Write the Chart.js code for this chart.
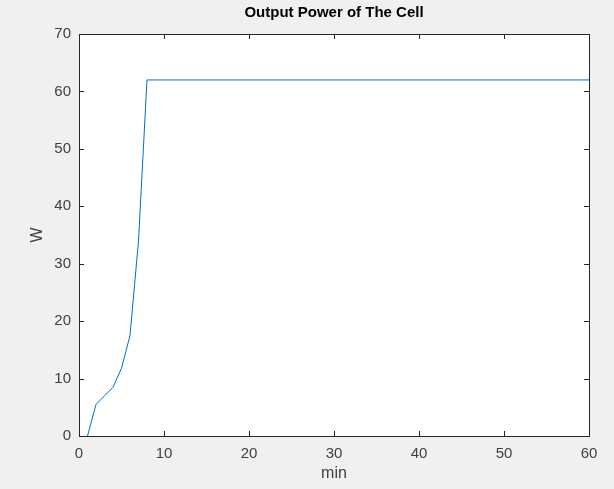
<!DOCTYPE html>
<html>
<head>
<meta charset="utf-8">
<script src="https://cdn.jsdelivr.net/npm/chart.js@4/dist/chart.umd.min.js"></script>
<style>
  html, body { margin: 0; padding: 0; background: #f0f0f0; }
  canvas { display: block; }
</style>
</head>
<body>
<canvas id="powerChart" width="614" height="489"></canvas>
<script>
// Output power of the cell over time
const minutes = [1, 2, 3, 4, 5, 6, 7, 8, 60];
const watts = [0, 5.5, 7, 8.5, 11.8, 17.5, 34, 62, 62];
const xTicks = [0, 10, 20, 30, 40, 50, 60];
const yTicks = [0, 10, 20, 30, 40, 50, 60, 70];

const axisColor = '#262626';
const fontFamily = '"Liberation Sans", Arial, Helvetica, sans-serif';

// Box around the axes with inward tick marks on all four sides, plus title
const matlabAxes = {
  id: 'matlabAxes',
  beforeDatasetsDraw(chart) {
    const { ctx, chartArea: a } = chart;
    ctx.save();
    ctx.fillStyle = '#ffffff';
    ctx.fillRect(a.left, a.top, a.right - a.left, a.bottom - a.top);
    ctx.restore();
  },
  afterDatasetsDraw(chart) {
    const { ctx, chartArea: a, scales } = chart;
    ctx.save();
    ctx.strokeStyle = axisColor;
    ctx.lineWidth = 1;
    ctx.beginPath();
    xTicks.forEach(v => {
      const x = Math.round(scales.x.getPixelForValue(v)) + 0.5;
      ctx.moveTo(x, a.bottom); ctx.lineTo(x, a.bottom - 5);
      ctx.moveTo(x, a.top); ctx.lineTo(x, a.top + 5);
    });
    yTicks.forEach(v => {
      const y = Math.round(scales.y.getPixelForValue(v)) + 0.5;
      ctx.moveTo(a.left, y); ctx.lineTo(a.left + 5, y);
      ctx.moveTo(a.right, y); ctx.lineTo(a.right - 5, y);
    });
    ctx.stroke();
    ctx.strokeRect(Math.round(a.left) + 0.5, Math.round(a.top) + 0.5,
      Math.round(a.right - a.left), Math.round(a.bottom - a.top));

    ctx.fillStyle = '#000000';
    ctx.font = 'bold 15px ' + fontFamily;
    ctx.textAlign = 'center';
    ctx.textBaseline = 'middle';
    ctx.fillText('Output Power of The Cell', (a.left + a.right) / 2, 13);
    ctx.restore();
  }
};

new Chart(document.getElementById('powerChart'), {
  type: 'line',
  data: {
    datasets: [{
      data: minutes.map((m, i) => ({ x: m, y: watts[i] })),
      borderColor: '#0072BD',
      borderWidth: 1,
      pointRadius: 0,
      fill: false,
      tension: 0
    }]
  },
  options: {
    responsive: false,
    animation: false,
    layout: { padding: { top: 34, right: 25, left: 0, bottom: 0 } },
    plugins: { legend: { display: false }, tooltip: { enabled: false } },
    scales: {
      x: {
        type: 'linear',
        min: 0,
        max: 60,
        afterBuildTicks: s => { s.ticks = xTicks.map(v => ({ value: v })); },
        afterFit: s => { s.height = 53; },
        grid: { display: false, drawTicks: false },
        border: { display: false },
        ticks: { color: '#404040', padding: 9, maxRotation: 0, font: { family: fontFamily, size: 15 } },
        title: { display: true, text: 'min', color: '#404040', padding: { top: 2, bottom: 6 }, font: { family: fontFamily, size: 16 } }
      },
      y: {
        type: 'linear',
        min: 0,
        max: 70,
        afterBuildTicks: s => { s.ticks = yTicks.map(v => ({ value: v })); },
        afterFit: s => { s.width = 79; },
        grid: { display: false, drawTicks: false },
        border: { display: false },
        ticks: { color: '#404040', padding: 8, font: { family: fontFamily, size: 15 } },
        title: { display: true, text: 'W', color: '#404040', padding: { top: 28, bottom: 10 }, font: { family: fontFamily, size: 16 } }
      }
    }
  },
  plugins: [matlabAxes]
});
</script>
</body>
</html>
